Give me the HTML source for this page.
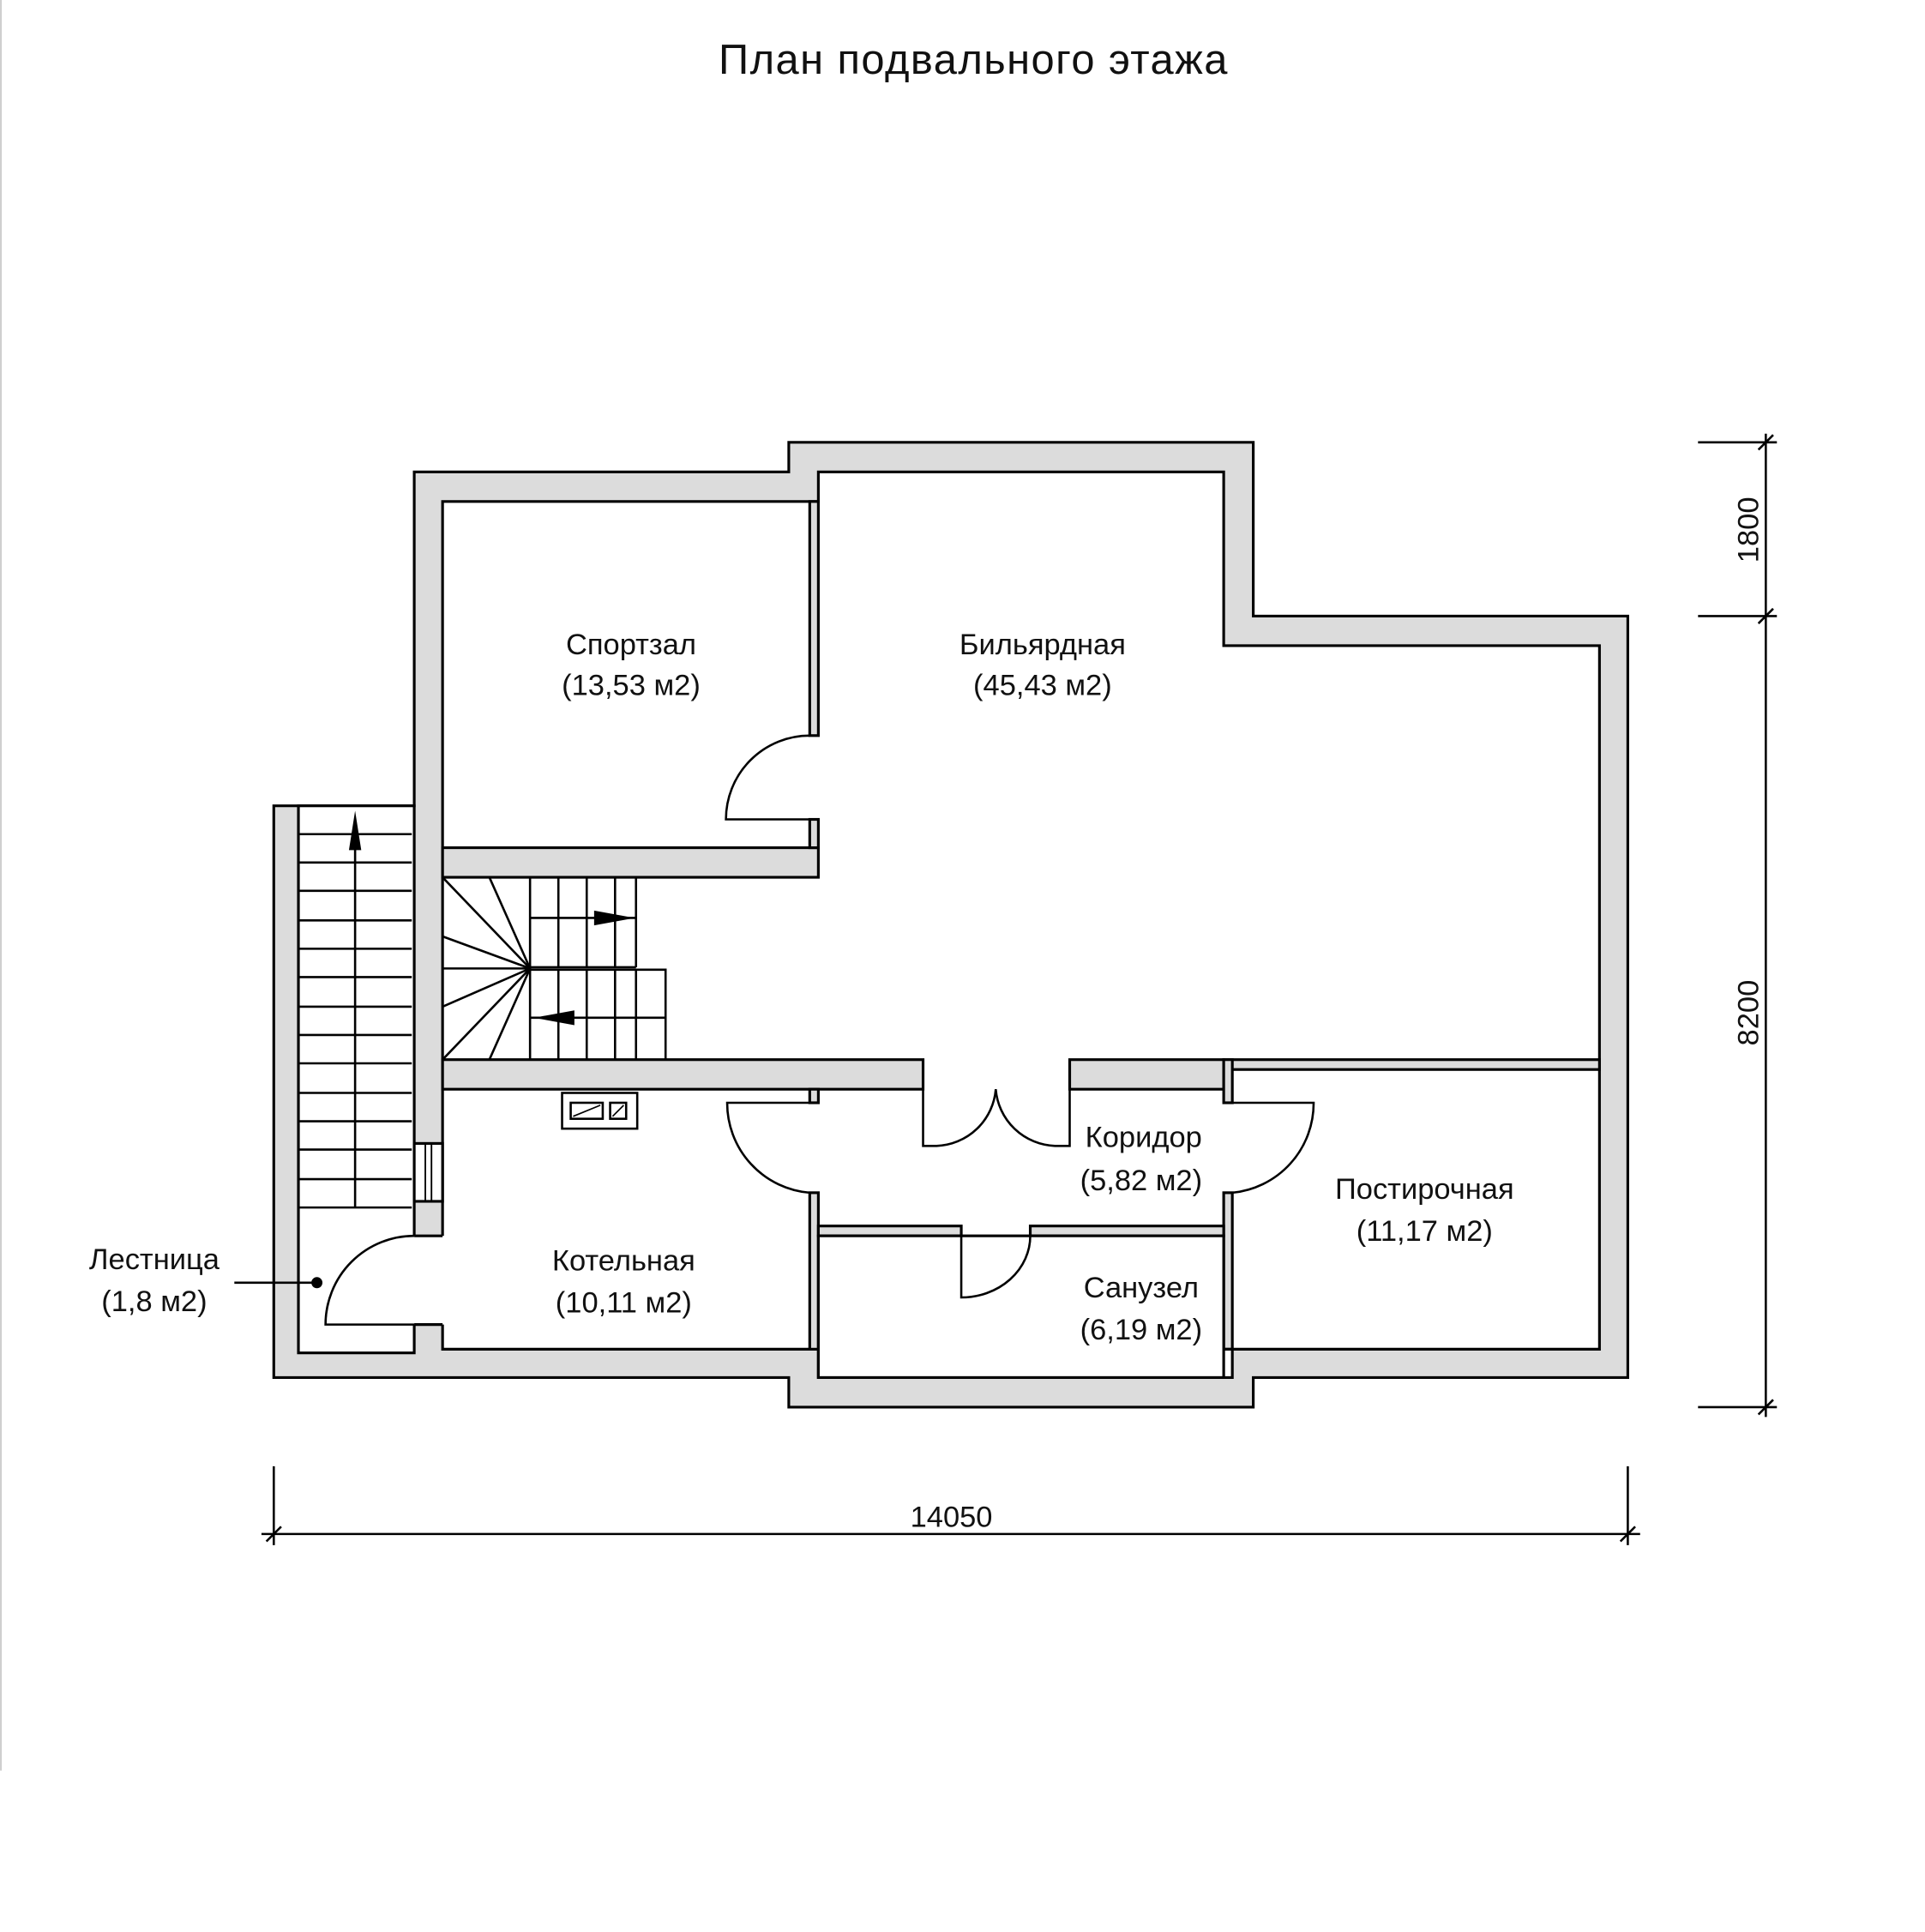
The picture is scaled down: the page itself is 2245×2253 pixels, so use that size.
<!DOCTYPE html>
<html><head><meta charset="utf-8"><style>
html,body{margin:0;padding:0;background:#fff;}
svg{display:block;}
text{font-family:"Liberation Sans","DejaVu Sans",sans-serif;fill:#111;}
</style></head><body>
<svg width="2245" height="2253" viewBox="0 0 1562 1568" xmlns="http://www.w3.org/2000/svg">
<rect x="0" y="0" width="1562" height="1568" fill="#fff"/>
<line x1="0.5" y1="0" x2="0.5" y2="1437" stroke="#bbb" stroke-width="1"/>
<text x="790" y="60" font-size="34" text-anchor="middle" font-weight="300" letter-spacing="1">План подвального этажа</text>

<g stroke="#000" stroke-width="2.2" stroke-linejoin="miter">
<path d="M336,383 H640 V359 H1017 V500 H1321 V1118 H1017 V1142 H640 V1118 H222 V654 H336 Z" fill="#dcdcdc"/>
<path d="M359,407 H664 V383 H993 V524 H1298 V1095 H1000 V1118 H664 V1095 H359 Z" fill="#fff"/>
<rect x="242" y="654" width="94" height="444" fill="#fff"/>
<rect x="334" y="1003" width="27" height="72" fill="#fff" stroke="none"/>
<line x1="336" y1="1003" x2="359" y2="1003"/>
<line x1="336" y1="1075" x2="359" y2="1075"/>
<rect x="336" y="928" width="23" height="47" fill="#fff"/>
<line x1="345" y1="928" x2="345" y2="975" stroke-width="1.3"/>
<line x1="350" y1="928" x2="350" y2="975" stroke-width="1.3"/>

<rect x="359" y="688" width="305" height="24" fill="#dcdcdc"/>
<rect x="657" y="407" width="7" height="190" fill="#dcdcdc"/>
<rect x="657" y="665" width="7" height="23" fill="#dcdcdc"/>
<rect x="359" y="860" width="390" height="24" fill="#dcdcdc"/>
<rect x="868" y="860" width="125" height="24" fill="#dcdcdc"/>
<rect x="993" y="860" width="305" height="8" fill="#dcdcdc"/>
<rect x="993" y="860" width="7" height="35" fill="#dcdcdc"/>
<rect x="993" y="968" width="7" height="127" fill="#dcdcdc"/>
<rect x="657" y="884" width="7" height="11" fill="#dcdcdc"/>
<rect x="657" y="968" width="7" height="127" fill="#dcdcdc"/>
<rect x="664" y="995" width="116" height="8" fill="#dcdcdc"/>
<rect x="836" y="995" width="157" height="8" fill="#dcdcdc"/>
<rect x="664" y="1003" width="329" height="115" fill="#fff"/>
<line x1="993" y1="1095" x2="1000" y2="1095"/>

<g fill="none" stroke-width="1.8">
<path d="M657,597 A68,68 0 0 0 589,665 H657"/>
<path d="M657,895 H590 A73,73 0 0 0 657,968"/>
<path d="M1000,895 H1066 A73,73 0 0 1 1000,968"/>
<path d="M780,1003 V1053 A56,50 0 0 0 836,1003"/>
<path d="M749,884 V930 H760 A50,50 0 0 0 808,884"/>
<path d="M868,884 V930 H856 A50,50 0 0 1 808,884"/>
<path d="M336,1075 H264 A72,72 0 0 1 336,1003"/>
</g>

<g stroke-width="1.8">
<line x1="242" y1="654" x2="334" y2="654"/>
<line x1="242" y1="677" x2="334" y2="677"/>
<line x1="242" y1="700" x2="334" y2="700"/>
<line x1="242" y1="723" x2="334" y2="723"/>
<line x1="242" y1="747" x2="334" y2="747"/>
<line x1="242" y1="770" x2="334" y2="770"/>
<line x1="242" y1="793" x2="334" y2="793"/>
<line x1="242" y1="817" x2="334" y2="817"/>
<line x1="242" y1="840" x2="334" y2="840"/>
<line x1="242" y1="863" x2="334" y2="863"/>
<line x1="242" y1="887" x2="334" y2="887"/>
<line x1="242" y1="910" x2="334" y2="910"/>
<line x1="242" y1="933" x2="334" y2="933"/>
<line x1="242" y1="957" x2="334" y2="957"/>
<line x1="242" y1="980" x2="334" y2="980"/>
<line x1="288" y1="980" x2="288" y2="685"/>
</g>
<polygon points="288,658 283,690 293,690" fill="#000" stroke="none"/>

<g stroke-width="1.8" fill="none">
<path d="M359,712 H516 V785"/>
<path d="M430,787 H540 V860"/>
<line x1="430" y1="785" x2="516" y2="785"/>
<line x1="430" y1="712" x2="430" y2="860"/>
<line x1="453" y1="712" x2="453" y2="785"/><line x1="476" y1="712" x2="476" y2="785"/><line x1="499" y1="712" x2="499" y2="785"/>
<line x1="453" y1="787" x2="453" y2="860"/><line x1="476" y1="787" x2="476" y2="860"/><line x1="499" y1="787" x2="499" y2="860"/><line x1="516" y1="787" x2="516" y2="860"/>
<line x1="430" y1="745" x2="516" y2="745"/>
<line x1="430" y1="826" x2="540" y2="826"/>
<line x1="359" y1="712" x2="430" y2="786"/>
<line x1="397" y1="712" x2="430" y2="786"/>
<line x1="359" y1="760" x2="430" y2="786"/>
<line x1="359" y1="786" x2="430" y2="786"/>
<line x1="359" y1="817" x2="430" y2="786"/>
<line x1="359" y1="860" x2="430" y2="786"/>
<line x1="397" y1="860" x2="430" y2="786"/>
</g>
<polygon points="515,745 482,739 482,751" fill="#000" stroke="none"/>
<polygon points="433,826 466,820 466,832" fill="#000" stroke="none"/>

<rect x="456" y="887" width="61" height="29" fill="#fff" stroke-width="1.8"/>
<rect x="463" y="895" width="26" height="13" fill="none" stroke-width="1.8"/>
<rect x="495" y="895" width="13" height="13" fill="none" stroke-width="1.8"/>
<line x1="465" y1="906" x2="487" y2="897" stroke-width="1.2"/>
<line x1="497" y1="906" x2="506" y2="897" stroke-width="1.2"/>
</g>

<line x1="190" y1="1041" x2="257" y2="1041" stroke="#000" stroke-width="1.8"/>
<circle cx="257" cy="1041" r="4.5" fill="#000"/>

<g font-size="24" text-anchor="middle" font-weight="300">
<text x="512" y="531">Спортзал</text><text x="512" y="564">(13,53 м2)</text>
<text x="846" y="531">Бильярдная</text><text x="846" y="564">(45,43 м2)</text>
<text x="928" y="931">Коридор</text><text x="926" y="966">(5,82 м2)</text>
<text x="1156" y="973">Постирочная</text><text x="1156" y="1007">(11,17 м2)</text>
<text x="506" y="1031">Котельная</text><text x="506" y="1065">(10,11 м2)</text>
<text x="926" y="1053">Санузел</text><text x="926" y="1087">(6,19 м2)</text>
<text x="125" y="1030">Лестница</text><text x="125" y="1064">(1,8 м2)</text>
</g>

<g stroke="#000" stroke-width="1.8">
<line x1="1433" y1="352" x2="1433" y2="1150"/>
<line x1="1378" y1="359" x2="1442" y2="359"/>
<line x1="1378" y1="500" x2="1442" y2="500"/>
<line x1="1378" y1="1142" x2="1442" y2="1142"/>
<line x1="1427" y1="365" x2="1439" y2="353"/>
<line x1="1427" y1="506" x2="1439" y2="494"/>
<line x1="1427" y1="1148" x2="1439" y2="1136"/>
<line x1="212" y1="1245" x2="1331" y2="1245"/>
<line x1="222" y1="1190" x2="222" y2="1254"/>
<line x1="1321" y1="1190" x2="1321" y2="1254"/>
<line x1="216" y1="1251" x2="228" y2="1239"/>
<line x1="1315" y1="1251" x2="1327" y2="1239"/>
</g>
<g font-size="24" text-anchor="middle" font-weight="300">
<text x="772" y="1239">14050</text>
<text transform="translate(1427,430) rotate(-90)">1800</text>
<text transform="translate(1427,822) rotate(-90)">8200</text>
</g>
</svg>
</body></html>
